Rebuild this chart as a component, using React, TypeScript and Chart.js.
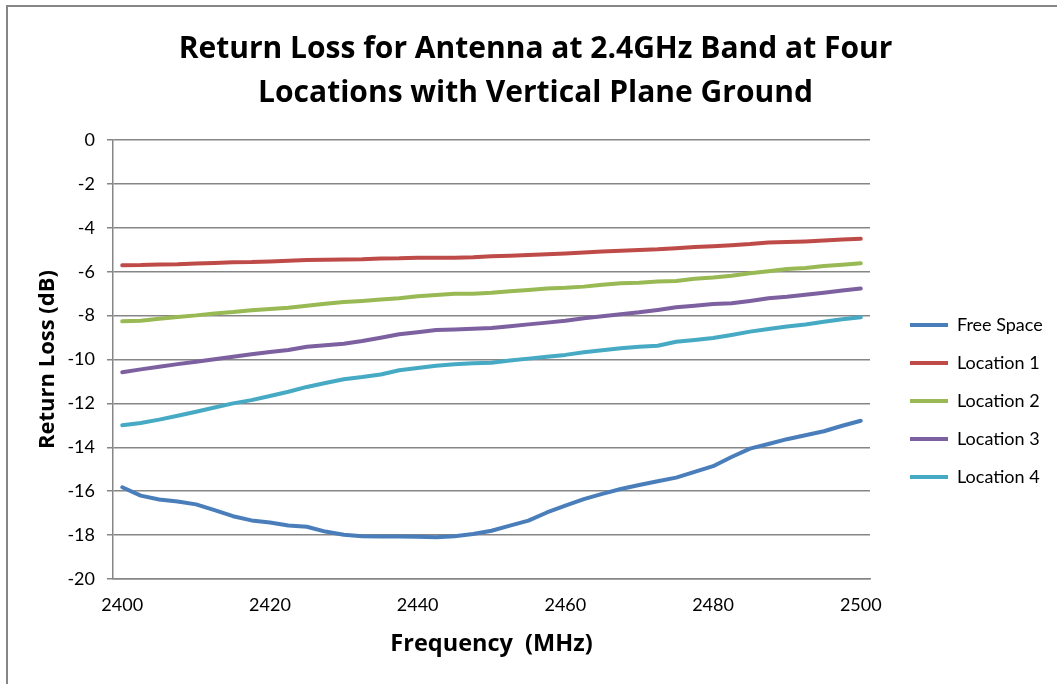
import { useEffect, useRef } from 'react';
import { Chart, registerables } from 'chart.js';

Chart.register(...registerables);

const frequencies = [
  '2400', '2402.5', '2405', '2407.5', '2410', '2412.5', '2415', '2417.5', '2420', '2422.5',
  '2425', '2427.5', '2430', '2432.5', '2435', '2437.5', '2440', '2442.5', '2445', '2447.5',
  '2450', '2452.5', '2455', '2457.5', '2460', '2462.5', '2465', '2467.5', '2470', '2472.5',
  '2475', '2477.5', '2480', '2482.5', '2485', '2487.5', '2490', '2492.5', '2495', '2497.5', '2500',
];

const shownTickLabels = ['2400', '2420', '2440', '2460', '2480', '2500'];

const freeSpace = [
  -15.82, -16.2, -16.38, -16.47, -16.6, -16.86, -17.14, -17.33, -17.43, -17.56,
  -17.62, -17.84, -17.98, -18.05, -18.06, -18.06, -18.07, -18.1, -18.05, -17.95,
  -17.8, -17.57, -17.34, -16.97, -16.66, -16.36, -16.12, -15.9, -15.72, -15.55,
  -15.38, -15.12, -14.86, -14.44, -14.06, -13.85, -13.63, -13.45, -13.27, -13.02, -12.79,
];

const location1 = [
  -5.71, -5.7, -5.67, -5.66, -5.63, -5.6, -5.57, -5.56, -5.53, -5.5,
  -5.47, -5.46, -5.44, -5.43, -5.4, -5.39, -5.36, -5.36, -5.36, -5.34,
  -5.3, -5.27, -5.24, -5.21, -5.17, -5.12, -5.08, -5.04, -5.01, -4.98,
  -4.93, -4.88, -4.84, -4.79, -4.74, -4.67, -4.65, -4.62, -4.58, -4.53, -4.5,
];

const location2 = [
  -8.26, -8.23, -8.14, -8.06, -7.99, -7.9, -7.84, -7.76, -7.7, -7.64,
  -7.55, -7.46, -7.38, -7.33, -7.27, -7.21, -7.12, -7.06, -7.0, -7.0,
  -6.96, -6.89, -6.83, -6.76, -6.73, -6.68, -6.59, -6.53, -6.5, -6.45,
  -6.42, -6.32, -6.26, -6.18, -6.07, -5.98, -5.88, -5.83, -5.74, -5.68, -5.62,
];

const location3 = [
  -10.58, -10.45, -10.33, -10.21, -10.1, -9.99, -9.87, -9.76, -9.66, -9.57,
  -9.42, -9.35, -9.28, -9.16, -9.01, -8.85, -8.76, -8.66, -8.63, -8.6,
  -8.57, -8.49, -8.4, -8.32, -8.23, -8.12, -8.03, -7.94, -7.85, -7.74,
  -7.62, -7.55, -7.47, -7.44, -7.33, -7.21, -7.14, -7.05, -6.96, -6.86, -6.77,
];

const location4 = [
  -13.0, -12.89, -12.74, -12.56, -12.38, -12.19, -12.0, -11.85, -11.66, -11.47,
  -11.25, -11.07, -10.9, -10.8, -10.68, -10.49, -10.39, -10.28, -10.22, -10.17,
  -10.15, -10.05, -9.96, -9.87, -9.79, -9.67, -9.58, -9.49, -9.42, -9.37,
  -9.19, -9.11, -9.02, -8.88, -8.73, -8.61, -8.5, -8.41, -8.28, -8.17, -8.08,
];

const seriesNames = ['Free Space', 'Location 1', 'Location 2', 'Location 3', 'Location 4'];
const seriesColors = ['#4A7EBB', '#BE4B48', '#98B954', '#7D60A0', '#46AAC5'];

const titleLines = ['Return Loss for Antenna at 2.4GHz Band at Four', 'Locations with Vertical Plane Ground'];
const xTitle = 'Frequency  (MHz)';
const yTitle = 'Return Loss (dB)';

const FONT = 'Lato';
const TITLE_FONT = 'Open Sans';
const GRID = '#868686';

export default function App() {
  const ref = useRef<HTMLCanvasElement>(null);

  useEffect(() => {
    const canvas = ref.current;
    if (!canvas) return;

    const values = [freeSpace, location1, location2, location3, location4];

    const framePlugin = {
      id: 'frame',
      beforeDraw(chart: any) {
        const { ctx } = chart;
        ctx.save();
        ctx.fillStyle = '#ffffff';
        ctx.fillRect(0, 0, chart.width, chart.height);
        ctx.strokeStyle = GRID;
        ctx.lineWidth = 2;
        ctx.strokeRect(7, 6, chart.width + 40, chart.height + 40);
        ctx.restore();
      },
    };

    const legendPlacement = {
      id: 'legendPlacement',
      beforeLayout(chart: any) {
        const lg = chart.legend;
        if (lg && !lg.__fixed) {
          const orig = lg.fit;
          lg.fit = function () {
            orig.call(this);
            this.width = 187;
          };
          lg.__fixed = true;
        }
      },
      afterLayout(chart: any) {
        const lg = chart.legend;
        if (!lg) return;
        lg.left = 890;
        lg.right = chart.width;
        lg.top = 280;
        lg.bottom = 522;
      },
    };

    const chart = new Chart(canvas, {
      type: 'line',
      data: {
        labels: frequencies,
        datasets: seriesNames.map((name, i) => ({
          label: name,
          data: values[i],
          borderColor: seriesColors[i],
          backgroundColor: seriesColors[i],
          borderWidth: 4,
          borderCapStyle: 'round' as const,
          borderJoinStyle: 'round' as const,
          pointRadius: 0,
          pointHoverRadius: 0,
          tension: 0,
          fill: false,
        })),
      },
      options: {
        responsive: false,
        animation: false,
        layout: { padding: { left: 14, right: 0, top: 0, bottom: 0 } },
        plugins: {
          tooltip: { enabled: false },
          title: {
            display: true,
            text: titleLines,
            color: '#000',
            font: { family: TITLE_FONT, size: 30, weight: 'bold', lineHeight: 44 / 30 },
            padding: { top: 27, bottom: 25 },
          },
          legend: {
            display: true,
            position: 'right',
            align: 'center',
            labels: {
              usePointStyle: true,
              pointStyle: 'line',
              pointStyleWidth: 38,
              padding: 20,
              color: '#000',
              font: { family: FONT, size: 18 },
            },
          },
        },
        scales: {
          x: {
            type: 'category',
            offset: true,
            afterFit: (s: any) => {
              s.height = 105;
            },
            grid: { display: false, drawTicks: false },
            border: { display: true, color: GRID, width: 1.5 },
            ticks: {
              autoSkip: false,
              maxRotation: 0,
              padding: 15,
              color: '#000',
              font: { family: FONT, size: 18 },
              callback: function (this: any, value: any) {
                const lbl = this.getLabelForValue(value);
                return shownTickLabels.includes(lbl) ? lbl : '';
              },
            },
            title: {
              display: true,
              text: xTitle,
              color: '#000',
              font: { family: TITLE_FONT, size: 23.5, weight: 'bold' },
              padding: { top: 0, bottom: 26 },
            },
          },
          y: {
            min: -20,
            max: 0,
            afterFit: (s: any) => {
              s.width = 99;
            },
            grid: { color: GRID, lineWidth: 1.5, drawTicks: true, tickLength: 6 },
            border: { display: true, color: GRID, width: 1.5 },
            ticks: {
              stepSize: 2,
              padding: 12,
              color: '#000',
              font: { family: FONT, size: 18 },
            },
            title: {
              display: true,
              text: yTitle,
              color: '#000',
              font: { family: TITLE_FONT, size: 22, weight: 'bold' },
              padding: { top: 21, bottom: 0 },
            },
          },
        },
      },
      plugins: [framePlugin, legendPlacement],
    } as any);

    return () => {
      chart.destroy();
    };
  }, []);

  return (
    <div style={{ position: 'fixed', left: 0, top: 0, width: 1057, height: 684, background: '#fff' }}>
      <canvas ref={ref} width={1057} height={684} style={{ display: 'block', width: 1057, height: 684 }} />
    </div>
  );
}
